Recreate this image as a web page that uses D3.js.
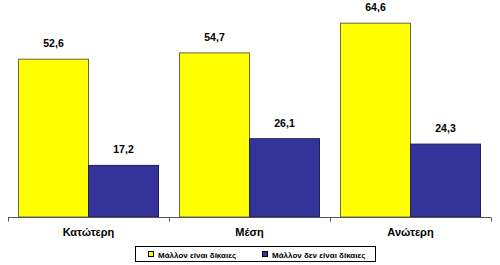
<!DOCTYPE html>
<html><head><meta charset="utf-8">
<script src="https://cdn.jsdelivr.net/npm/d3@7"></script>
<style>body{margin:0;background:#fff}svg{display:block;font-family:"Liberation Sans",Arial,sans-serif}</style>
</head><body><svg id="c" width="500" height="265"></svg>
<script>
const categories = ["Κατώτερη", "Μέση", "Ανώτερη"];
const seriesNames = ["Μάλλον είναι δίκαιες", "Μάλλον δεν είναι δίκαιες"];
const fairValues = [52.6, 54.7, 64.6];
const unfairValues = [17.2, 26.1, 24.3];
const colors = ["#FFFF00", "#333399"];
const strokes = ["#6b6b3a", "#1f1f5c"];

const svg = d3.select("#c");
const x0 = d3.scaleBand().domain(categories).range([8, 491]).paddingInner(0).paddingOuter(0);
const x1 = d3.scaleBand().domain([0, 1]).range([10.5, x0.bandwidth() - 10.5]);
const y = d3.scaleLinear().domain([0, 70]).range([217, 7]);
const fmt = v => v.toFixed(1).replace(".", ",");

const data = categories.map((c, i) => ({c, vals: [fairValues[i], unfairValues[i]]}));
const g = svg.selectAll("g.grp").data(data).join("g").attr("transform", d => `translate(${x0(d.c)},0)`);
g.selectAll("rect").data(d => d.vals.map((v, k) => ({v, k}))).join("rect")
  .attr("x", d => x1(d.k)).attr("width", x1.bandwidth())
  .attr("y", d => y(d.v)).attr("height", d => y(0) - y(d.v))
  .attr("fill", d => colors[d.k]).attr("stroke", d => strokes[d.k]).attr("stroke-width", 1);
g.selectAll("text").data(d => d.vals.map((v, k) => ({v, k}))).join("text")
  .attr("x", d => x1(d.k) + x1.bandwidth() / 2).attr("y", d => y(d.v) - 12)
  .attr("text-anchor", "middle").attr("font-size", 10.5).attr("font-weight", "bold")
  .text(d => fmt(d.v));

// x axis
const ax = svg.append("g").attr("transform", "translate(0,217.5)");
ax.append("line").attr("x1", 8).attr("x2", 491).attr("stroke", "#555");
const tickPos = categories.map(c => x0(c)).concat([491]);
ax.selectAll("line.t").data(tickPos).join("line").attr("class", "t")
  .attr("x1", d => Math.round(d) + 0.5).attr("x2", d => Math.round(d) + 0.5).attr("y1", 0).attr("y2", 4).attr("stroke", "#555");
svg.selectAll("text.cat").data(categories).join("text").attr("class", "cat")
  .attr("x", d => x0(d) + x0.bandwidth() / 2).attr("y", 236)
  .attr("text-anchor", "middle").attr("font-size", 11).attr("font-weight", "bold").text(d => d);

// legend
const lg = svg.append("g");
lg.append("rect").attr("x", 135.5).attr("y", 246.5).attr("width", 240).attr("height", 15)
  .attr("fill", "#fff").attr("stroke", "#000").attr("stroke-width", 1);
const lx = [148, 262];
seriesNames.forEach((s, k) => {
  lg.append("rect").attr("x", lx[k] + 0.5).attr("y", 251.5).attr("width", 5).attr("height", 5)
    .attr("fill", colors[k]).attr("stroke", "#000");
  lg.append("text").attr("x", lx[k] + 10).attr("y", 258).attr("font-size", 8).attr("font-weight", "bold").text(s);
});
</script></body></html>
